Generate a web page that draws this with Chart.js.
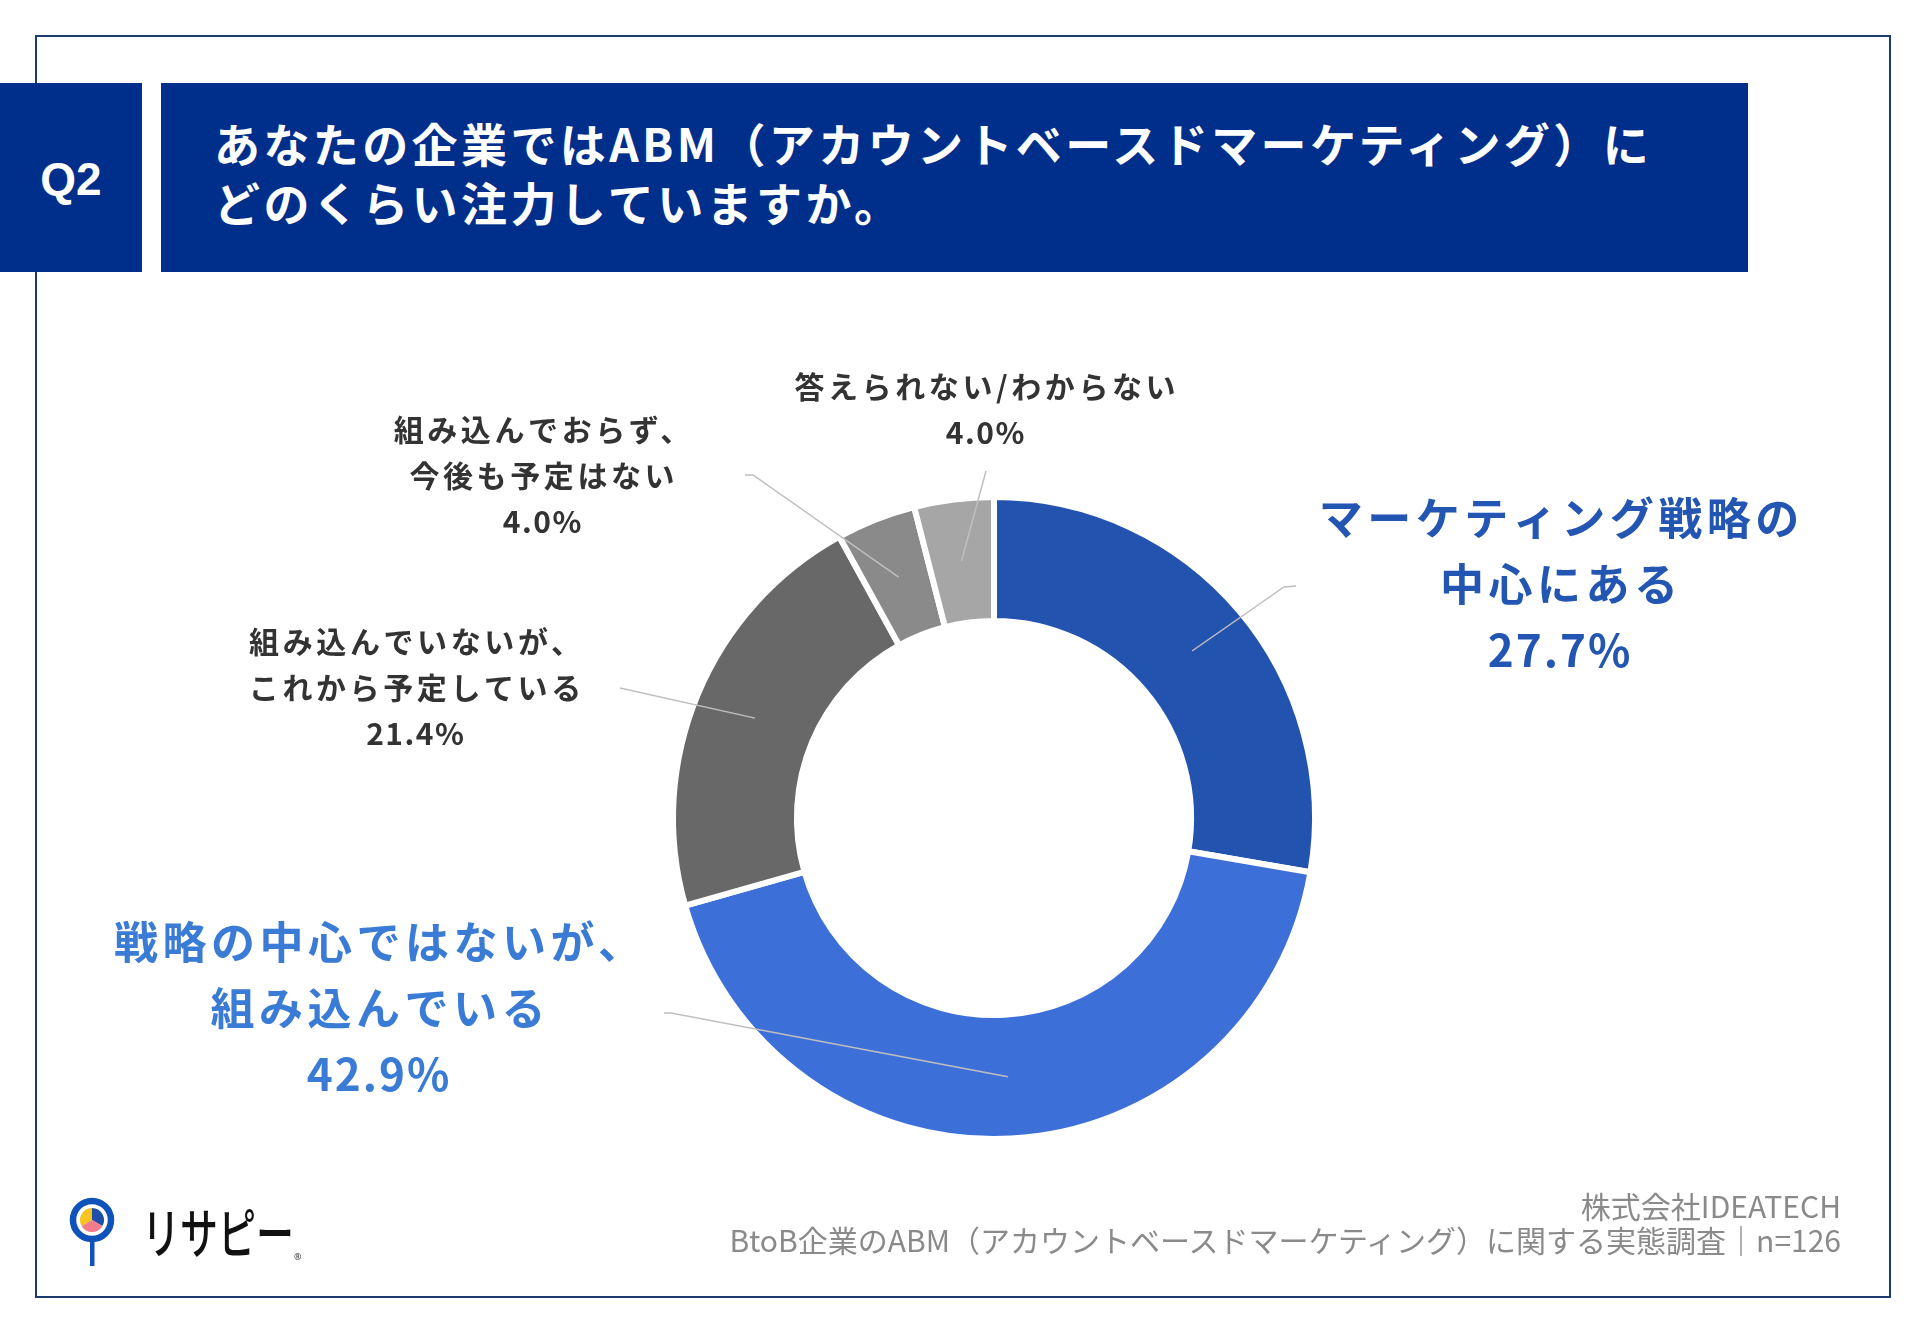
<!DOCTYPE html>
<html lang="ja">
<head>
<meta charset="utf-8">
<script src="https://cdn.jsdelivr.net/npm/chart.js@4.4.1/dist/chart.umd.min.js"></script>
<style>
  html, body { margin: 0; padding: 0; background: #fff; }
  body { width: 1920px; height: 1329px; position: relative; overflow: hidden;
         font-family: "Noto Sans CJK JP", "Noto Sans", sans-serif; }
  .frame { position: absolute; left: 35px; top: 35px; width: 1852px; height: 1259px;
           border: 2.5px solid #1b3a6e; }
  .qbox { position: absolute; left: 0; top: 83px; width: 142px; height: 189px; background: #002e8b;
          color: #fff; font: bold 46px "Liberation Sans", Arial, sans-serif;
          display: flex; align-items: center; justify-content: center; padding-top: 2px; box-sizing: border-box; }
  .tbox { position: absolute; left: 161px; top: 83px; width: 1587px; height: 189px; background: #002e8b; }
  .tbox div { position: absolute; left: 53px; color: #fff; font-weight: bold; font-size: 46px;
              letter-spacing: 3.4px; line-height: 60px; white-space: nowrap; }
  .credit { position: absolute; right: 79px; color: #8a8a8a; font-size: 30px; line-height: 34px;
            text-align: right; white-space: nowrap; }
  canvas { position: absolute; left: 0; top: 0; }
  .logo { position: absolute; left: 66px; top: 1192px; }
</style>
</head>
<body>
<div class="frame"></div>
<div class="qbox">Q2</div>
<div class="tbox">
  <div style="top:29px">あなたの企業ではABM（アカウントベースドマーケティング）に</div>
  <div style="top:88px">どのくらい注力していますか。</div>
</div>
<canvas id="chart" width="1920" height="1329"></canvas>
<svg class="logo" width="260" height="80" viewBox="0 0 260 80">
  <rect x="24" y="40" width="4.5" height="34" fill="#0f52ba"/>
  <circle cx="26" cy="28" r="19" fill="#fff" stroke="#0f52ba" stroke-width="6.5"/>
  <path d="M26 28 L26 16 A12 12 0 0 0 15.6 34 Z" fill="#f8c41f"/>
  <path d="M26 28 L26 16 A12 12 0 0 1 36.4 34 Z" fill="#1f4fa8"/>
  <path d="M26 28 L36.4 34 A12 12 0 0 1 15.6 34 Z" fill="#f27b8c"/>
  <text x="76" y="62" font-family="Noto Sans CJK JP" font-size="54" font-weight="500" fill="#111"
        textLength="152" lengthAdjust="spacingAndGlyphs">リサピー</text>
  <text x="228" y="68" font-family="Noto Sans" font-size="9" fill="#333">®</text>
</svg>
<div class="credit" style="top:1188px">株式会社IDEATECH</div>
<div class="credit" style="top:1222px">BtoB企業のABM（アカウントベースドマーケティング）に関する実態調査｜n=126</div>

<script>
// 回答データ（n=126）
const categories = [
  'マーケティング戦略の\n中心にある',
  '戦略の中心ではないが、\n組み込んでいる',
  '組み込んでいないが、\nこれから予定している',
  '組み込んでおらず、\n今後も予定はない',
  '答えられない/わからない'
];
const shares = [27.7, 42.9, 21.4, 4.0, 4.0];
const sliceColors = ['#2253ae', '#3d6fd9', '#686868', '#8a8a8a', '#a6a6a6'];

// ラベルの配置（ドーナツ中心からのずれ）と引き出し線の終点
const labelSpots = [
  {dx: 565, dy: -234, elbow: [290, -231], end: [302, -232]},
  {dx: -616, dy: 190, elbow: [-323, 195], end: [-330, 195]},
  {dx: -579, dy: -130, elbow: [-374, -130], end: [-374, -130]},
  {dx: -452, dy: -342, elbow: [-241, -343], end: [-249, -343]},
  {dx: -9, dy: -408, elbow: [-8, -347], end: [-8, -347]}
];
const labelStyles = [
  {size: 44, spacing: 4.5, pctSpacing: 2, lineGap: 66, color: '#2356b2'},
  {size: 44, spacing: 4.5, pctSpacing: 2, lineGap: 66, color: '#3a7bd5'},
  {size: 30, spacing: 3.6, pctSpacing: 1.5, lineGap: 46, color: '#333333'},
  {size: 30, spacing: 3.6, pctSpacing: 1.5, lineGap: 46, color: '#333333'},
  {size: 30, spacing: 3.6, pctSpacing: 1.5, lineGap: 46, color: '#333333'}
];

// 外側ラベルと引き出し線を描く
const outerLabels = {
  id: 'outerLabels',
  afterDraw(chart) {
    const ctx = chart.ctx;
    const arcs = chart.getDatasetMeta(0).data;
    arcs.forEach((arc, i) => {
      const p = arc.getProps(['x', 'y', 'startAngle', 'endAngle', 'innerRadius', 'outerRadius']);
      const mid = (p.startAngle + p.endAngle) / 2;
      const r = (p.innerRadius + p.outerRadius) / 2;
      const spot = labelSpots[i];
      ctx.save();
      ctx.strokeStyle = '#bfbfbf';
      ctx.lineWidth = 1.5;
      ctx.beginPath();
      ctx.moveTo(p.x + Math.cos(mid) * r, p.y + Math.sin(mid) * r);
      ctx.lineTo(p.x + spot.elbow[0], p.y + spot.elbow[1]);
      ctx.lineTo(p.x + spot.end[0], p.y + spot.end[1]);
      ctx.stroke();

      const st = labelStyles[i];
      const lines = categories[i].split('\n');
      lines.push(shares[i].toFixed(1) + '%');
      ctx.font = 'bold ' + st.size + 'px "Noto Sans CJK JP"';
      ctx.fillStyle = st.color;
      ctx.textAlign = 'center';
      ctx.textBaseline = 'middle';
      const top = p.y + spot.dy - (lines.length - 1) * st.lineGap / 2;
      lines.forEach((line, k) => {
        const sp = k === lines.length - 1 ? st.pctSpacing : st.spacing;
        ctx.letterSpacing = sp + 'px';
        ctx.fillText(line, p.x + spot.dx + sp / 2, top + k * st.lineGap);
      });
      ctx.restore();
    });
  }
};

new Chart(document.getElementById('chart'), {
  type: 'doughnut',
  data: {
    labels: categories,
    datasets: [{
      data: shares,
      backgroundColor: sliceColors,
      borderColor: '#ffffff',
      borderWidth: 6
    }]
  },
  options: {
    responsive: false,
    animation: false,
    cutout: '61.4%',
    layout: {padding: {left: 670, right: 602, top: 494, bottom: 187}},
    plugins: {
      legend: {display: false},
      tooltip: {enabled: false}
    }
  },
  plugins: [outerLabels]
});
</script>
</body>
</html>
